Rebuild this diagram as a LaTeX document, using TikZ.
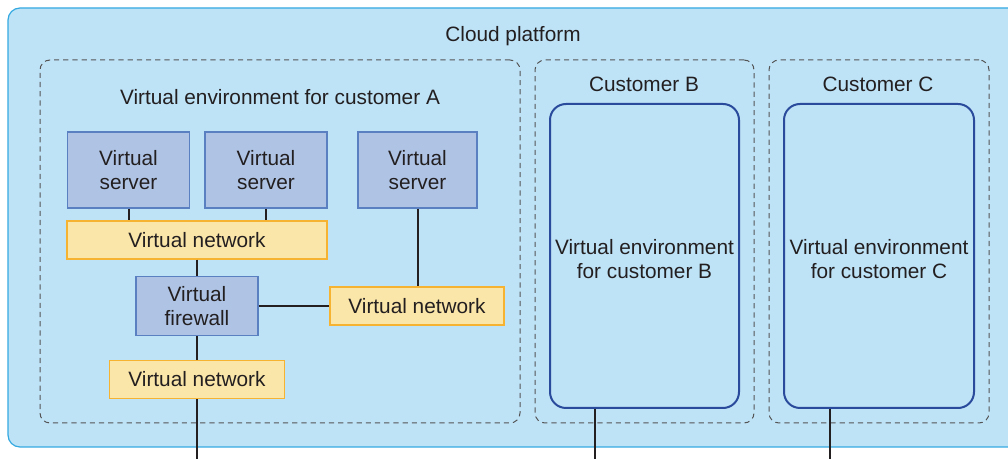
\documentclass[tikz,border=0pt]{standalone}
\usepackage{fontspec}
\setmainfont{Liberation Sans}
\usetikzlibrary{positioning,calc}
\usepackage{xcolor}
\definecolor{platfill}{HTML}{BEE3F7}
\definecolor{platline}{HTML}{33A9E0}
\definecolor{srvfill}{HTML}{AFC4E5}
\definecolor{srvline}{HTML}{5B80C2}
\definecolor{netfill}{HTML}{FBE6A9}
\definecolor{netline}{HTML}{F6B331}
\definecolor{envline}{HTML}{2A4B9B}
\definecolor{zoneline}{HTML}{555555}
\definecolor{ink}{HTML}{231F20}

\begin{document}
\begin{tikzpicture}[
				x=0.5pt,y=-0.5pt,
				font=\fontsize{10.4}{12}\selectfont,text=ink,
				platform/.style={draw=platline,line width=0.6pt,fill=platfill,rectangle,rounded corners=6pt,minimum width=511pt,minimum height=219.5pt},
				zone/.style={draw=zoneline,dashed,dash pattern=on 2.6pt off 2pt,line width=0.5pt,rectangle,rounded corners=5pt,minimum height=181.5pt},
				server/.style={draw=srvline,line width=0.6pt,fill=srvfill,rectangle,minimum width=61pt,minimum height=38pt,align=center,inner sep=0pt},
				vnet/.style={draw=netline,line width=0.6pt,fill=netfill,rectangle,minimum height=19pt,align=center,inner sep=0pt},
				envbox/.style={draw=envline,line width=1pt,rectangle,rounded corners=8pt,minimum height=152pt,align=center,inner sep=0pt},
				link/.style={draw=ink,line width=1pt}
				]
				
				\clip (0,0) rectangle (1008,459);
				
				% Cloud platform
				\node[platform] (cloud) at (519,227.5) {};
				\node (cloudlabel) at (513,36.5) {Cloud platform};
				
				% Customer A
				\node[zone,minimum width=240pt] (zoneA) at (280,241.5) {};
				\node (zoneAlabel) at (280,97) {Virtual environment for customer A};
				\node[server] (srv1) at (128.5,170) {Virtual\\server};
				\node[server] (srv2) at (266,170) {Virtual\\server};
				\node[server,minimum width=59.5pt] (srv3) at (417.5,170) {Virtual\\server};
				\node[vnet,minimum width=130pt] (net1) at (197,240) {Virtual network};
				\node[server,minimum height=29.5pt] (fw) at (197,306) {Virtual\\firewall};
				\node[vnet,minimum width=87pt] (net2) at (417,306) {Virtual network};
				\node[vnet,minimum width=87.5pt] (net3) at (197,379.5) {Virtual network};
				
				% Customer B
				\node[zone,minimum width=109.5pt] (zoneB) at (644.5,241.5) {};
				\node (zoneBlabel) at (644,84) {Customer B};
				\node[envbox,minimum width=94.5pt] (envB) at (644.5,256) {};
				\node[align=center] (envBlabel) at (644.5,259) {Virtual environment\\for customer B};
				
				% Customer C
				\node[zone,minimum width=110pt] (zoneC) at (879,241.5) {};
				\node (zoneClabel) at (878,84) {Customer C};
				\node[envbox,minimum width=95pt] (envC) at (879,256) {};
				\node[align=center] (envClabel) at (879,259) {Virtual environment\\for customer C};
				
				% Connections
				\coordinate (outA) at (197,470);
				\coordinate (outB) at (595,470);
				\coordinate (outC) at (830,470);
				\draw[link] (srv1.south) -- (srv1.south |- net1.north);
				\draw[link] (srv2.south) -- (srv2.south |- net1.north);
				\draw[link] (srv3.south) -- (srv3.south |- net2.north);
				\draw[link] (net1) -- (fw);
				\draw[link] (fw) -- (net2);
				\draw[link] (fw) -- (net3);
				\draw[link] (net3) -- (outA);
				\draw[link] (envB.south -| outB) -- (outB);
				\draw[link] (envC.south -| outC) -- (outC);
				
			\end{tikzpicture}
\end{document}
